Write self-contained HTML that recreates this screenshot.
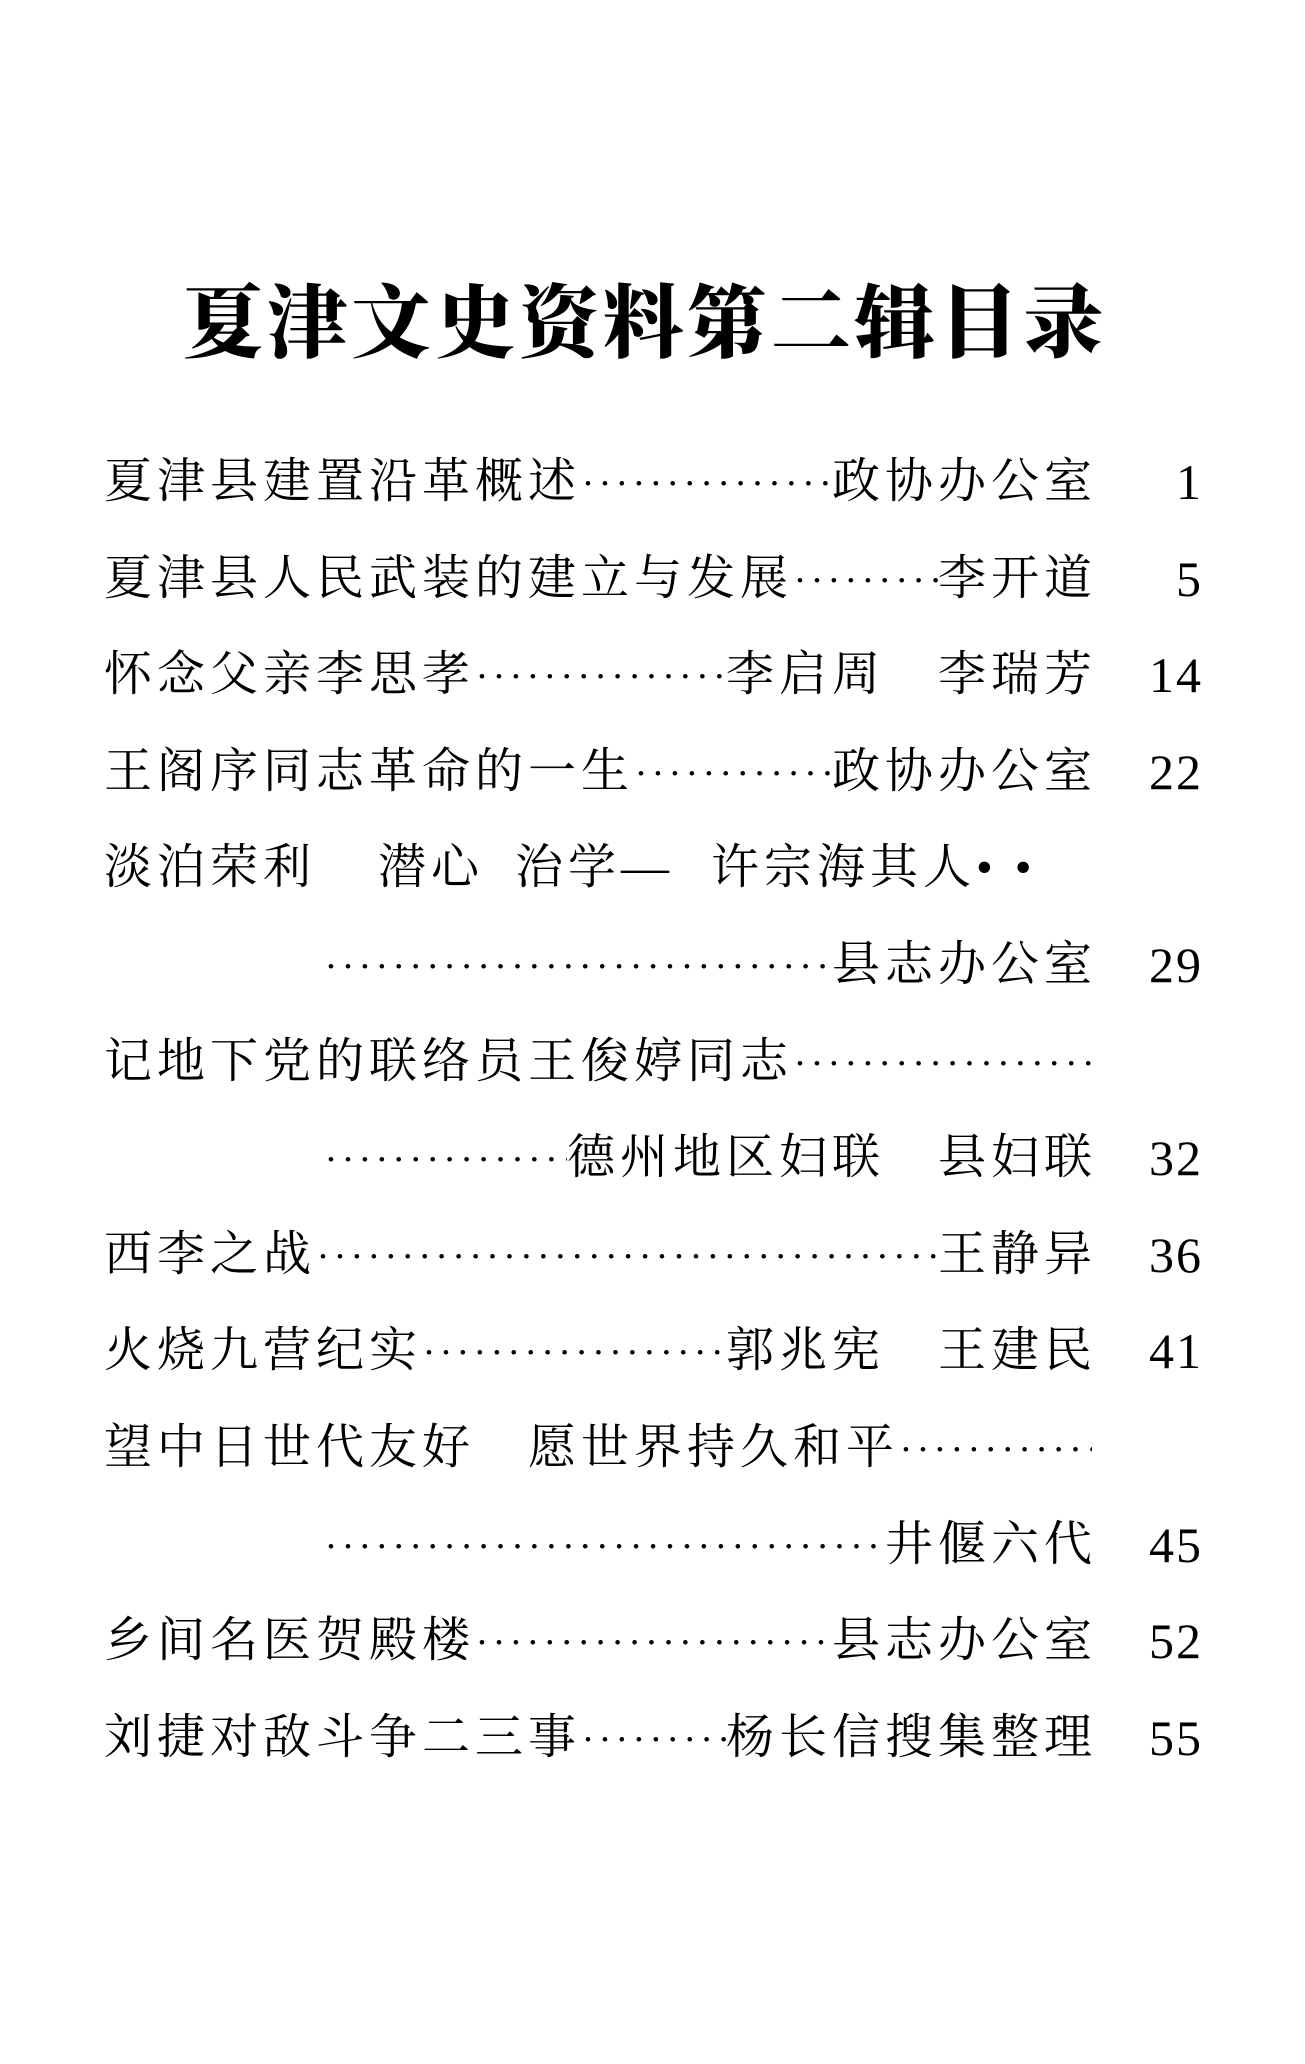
<!DOCTYPE html>
<html><head><meta charset="utf-8"><style>
html,body{margin:0;padding:0;background:#fff;}
body{width:1305px;height:2058px;position:relative;overflow:hidden;color:#000;
font-family:"Liberation Serif","Noto Serif CJK SC",serif;}
.title{position:absolute;left:183px;top:275px;width:1000px;height:100px;line-height:100px;
font-size:80px;font-weight:900;letter-spacing:4px;white-space:nowrap;
font-family:"Liberation Serif","Noto Serif CJK SC",serif;}
.row{position:absolute;left:104px;width:988px;height:60px;line-height:60px;display:flex;
font-size:48px;letter-spacing:5px;white-space:nowrap;}
.l{flex:0 0 auto;}
.d{flex:1 1 auto;overflow:hidden;font-family:"Liberation Sans",sans-serif;letter-spacing:0;font-size:40px;padding-left:4px;}
.d::before{content:"••••••••••••••••••••••••••••••••••••••••••••••••••••••••••••••••••";font-size:17px;letter-spacing:11px;vertical-align:middle;}
.r{flex:0 0 auto;letter-spacing:5px;margin-right:-5px;}
.n{position:absolute;right:102px;width:100px;text-align:right;height:60px;line-height:60px;
font-size:50px;font-family:"Liberation Serif",serif;letter-spacing:2px;}
.s{position:absolute;height:60px;line-height:60px;font-size:48px;letter-spacing:5px;white-space:nowrap;}
.wrap{position:absolute;left:0;top:6px;width:1305px;height:2058px;}
</style></head><body>
<div class="title">夏津文史资料第二辑目录</div>
<div class="wrap">
<div class="row" style="top:446px"><span class="l">夏津县建置沿革概述</span><span class="d"></span><span class="r">政协办公室</span></div>
<div class="n" style="top:446px">1</div>

<div class="row" style="top:543px"><span class="l">夏津县人民武装的建立与发展</span><span class="d"></span><span class="r">李开道</span></div>
<div class="n" style="top:543px">5</div>

<div class="row" style="top:639px"><span class="l">怀念父亲李思孝</span><span class="d"></span><span class="r">李启周　李瑞芳</span></div>
<div class="n" style="top:639px">14</div>

<div class="row" style="top:736px"><span class="l">王阁序同志革命的一生</span><span class="d"></span><span class="r">政协办公室</span></div>
<div class="n" style="top:736px">22</div>

<div class="s" style="top:832px;left:104px">淡泊荣利</div>
<div class="s" style="top:832px;left:378px">潜心</div>
<div class="s" style="top:832px;left:515px">治学—</div>
<div class="s" style="top:832px;left:711px">许宗海其人• •</div>

<div class="row" style="top:929px;left:324px;width:768px"><span class="d"></span><span class="r">县志办公室</span></div>
<div class="n" style="top:929px">29</div>

<div class="row" style="top:1026px"><span class="l">记地下党的联络员王俊婷同志</span><span class="d"></span></div>

<div class="row" style="top:1122px;left:324px;width:768px"><span class="d"></span><span class="r">德州地区妇联　县妇联</span></div>
<div class="n" style="top:1122px">32</div>

<div class="row" style="top:1219px"><span class="l">西李之战</span><span class="d"></span><span class="r">王静异</span></div>
<div class="n" style="top:1219px">36</div>

<div class="row" style="top:1315px"><span class="l">火烧九营纪实</span><span class="d"></span><span class="r">郭兆宪　王建民</span></div>
<div class="n" style="top:1315px">41</div>

<div class="row" style="top:1412px"><span class="l">望中日世代友好　愿世界持久和平</span><span class="d"></span></div>

<div class="row" style="top:1509px;left:324px;width:768px"><span class="d"></span><span class="r">井偃六代</span></div>
<div class="n" style="top:1509px">45</div>

<div class="row" style="top:1605px"><span class="l">乡间名医贺殿楼</span><span class="d"></span><span class="r">县志办公室</span></div>
<div class="n" style="top:1605px">52</div>

<div class="row" style="top:1702px"><span class="l">刘捷对敌斗争二三事</span><span class="d"></span><span class="r">杨长信搜集整理</span></div>
<div class="n" style="top:1702px">55</div>
</div>
</body></html>
